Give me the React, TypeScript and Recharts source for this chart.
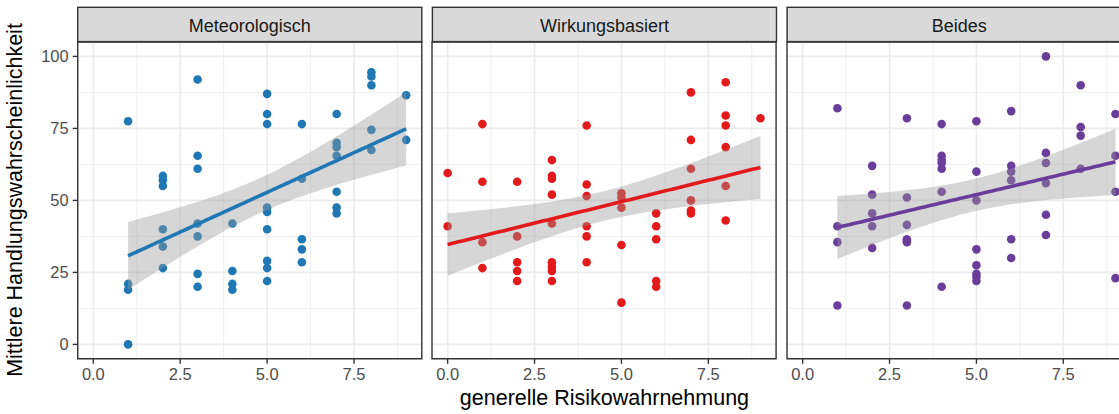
import React from "react";
import {
  ComposedChart,
  Scatter,
  Area,
  Line,
  XAxis,
  YAxis,
  CartesianGrid,
  ReferenceArea,
} from "recharts";

// Facet names
const panels = ["Meteorologisch", "Wirkungsbasiert", "Beides"];
const panelColors = ["#1F78B4", "#E31A1C", "#6A3D9A"];

// Mean action likelihood per respondent, grouped by general risk perception (index = 0..9)
const meteorologisch: number[][] = [
  [],
  [77.5, 21, 19, 0],
  [58.5, 57, 55, 40, 34, 26.5],
  [92, 65.5, 61, 42, 37.5, 24.5, 20],
  [42, 25.5, 21, 19],
  [87, 80, 76.5, 47.5, 46, 40, 29, 26.5, 22],
  [76.5, 57.5, 36.5, 33, 28.5],
  [80, 70, 68.5, 65.5, 53, 47.5, 45.5],
  [94.5, 93, 90, 74.5, 67.5],
  [86.5, 71],
];

const wirkungsbasiert: number[][] = [
  [59.5, 41],
  [76.5, 56.5, 35.5, 26.5],
  [56.5, 37.5, 28.5, 25.5, 22],
  [64, 58.5, 57.5, 52, 42, 28.5, 27, 25.5, 22],
  [76, 55.5, 51.5, 41, 37.5, 28.5],
  [52.5, 51, 47.5, 34.5, 14.5],
  [45.5, 41, 36.5, 22, 20],
  [87.5, 71, 61, 50, 46.5, 45.5],
  [91, 79.5, 76, 68.5, 55, 43],
  [78.5],
];

const beides: number[][] = [
  [],
  [82, 41, 35.5, 13.5],
  [62, 52, 45.5, 41, 33.5],
  [78.5, 51, 41.5, 36.5, 36, 35.5, 13.5],
  [76.5, 65.5, 64, 63, 61, 53, 20],
  [77.5, 60, 50, 33, 27.5, 24.5, 23.5, 22],
  [81, 62, 60, 57, 36.5, 30],
  [100, 66.5, 63, 56, 45, 38],
  [90, 75.5, 72.5, 61],
  [80, 65.5, 53, 23],
];

const panelData = [meteorologisch, wirkungsbasiert, beides];

const xTicks = [0, 2.5, 5, 7.5];
const xMinor = [1.25, 3.75, 6.25, 8.75];
const yTicks = [0, 25, 50, 75, 100];
const yMinor = [12.5, 37.5, 62.5, 87.5];

const X_DOMAIN: [number, number] = [-0.45, 9.45];
const Y_DOMAIN: [number, number] = [-5, 105];

// Layout
const FONT = "'Liberation Sans', Arial, Helvetica, sans-serif";
const PLOT_TOP = 41.6;
const PLOT_H = 316.8;
const PANEL_W = 344.1;
const GAP = 10.6;
const FIRST_LEFT = 77.7;
const Y_AXIS_W = 77.7;
const X_AXIS_H = 50;
const M = 2;
const STRIP_TOP = 7.3;

type Pt = { x: number; y: number };

function toPoints(groups: number[][]): Pt[] {
  const out: Pt[] = [];
  groups.forEach((ys, x) => ys.forEach((y) => out.push({ x, y })));
  return out;
}

function t975(df: number): number {
  const z = 1.959964;
  const z3 = z ** 3;
  const z5 = z ** 5;
  return z + (z3 + z) / (4 * df) + (5 * z5 + 16 * z3 + 3 * z) / (96 * df * df);
}

// Least-squares fit with 95% confidence band, evaluated on 80 points across the x range
function linearSmooth(pts: Pt[]) {
  const n = pts.length;
  const mx = pts.reduce((s, p) => s + p.x, 0) / n;
  const my = pts.reduce((s, p) => s + p.y, 0) / n;
  let sxx = 0;
  let sxy = 0;
  pts.forEach((p) => {
    sxx += (p.x - mx) ** 2;
    sxy += (p.x - mx) * (p.y - my);
  });
  const b = sxy / sxx;
  const a = my - b * mx;
  let sse = 0;
  pts.forEach((p) => {
    sse += (p.y - (a + b * p.x)) ** 2;
  });
  const s = Math.sqrt(sse / (n - 2));
  const t = t975(n - 2);
  const xmin = Math.min(...pts.map((p) => p.x));
  const xmax = Math.max(...pts.map((p) => p.x));
  const rows: { x: number; fit: number; band: [number, number] }[] = [];
  const steps = 80;
  for (let i = 0; i < steps; i++) {
    const x = xmin + ((xmax - xmin) * i) / (steps - 1);
    const fit = a + b * x;
    const se = s * Math.sqrt(1 / n + (x - mx) ** 2 / sxx);
    rows.push({ x, fit, band: [fit - t * se, fit + t * se] });
  }
  return rows;
}

const tickStyle = { fill: "#4D4D4D", fontSize: 16.5, fontFamily: FONT };

function Panel({ index }: { index: number }) {
  const color = panelColors[index];
  const pts = toPoints(panelData[index]);
  const smooth = linearSmooth(pts);
  const withY = index === 0;
  const yw = withY ? Y_AXIS_W : 0;
  const plotLeft = FIRST_LEFT + index * (PANEL_W + GAP);
  const left = plotLeft - yw - M;
  return (
    <div style={{ position: "absolute", left, top: PLOT_TOP - M }}>
      <ComposedChart
        width={yw + PANEL_W + 2 * M}
        height={PLOT_H + M + X_AXIS_H}
        data={smooth}
        margin={{ top: M, right: M, bottom: 0, left: M }}
      >
        <CartesianGrid
          stroke="#EBEBEB"
          strokeWidth={0.8}
          horizontalValues={yMinor}
          verticalValues={xMinor}
        />
        <CartesianGrid
          stroke="#EBEBEB"
          strokeWidth={1.6}
          horizontalValues={yTicks}
          verticalValues={xTicks}
        />
        <XAxis
          dataKey="x"
          type="number"
          domain={X_DOMAIN}
          allowDataOverflow
          ticks={xTicks}
          interval={0}
          tickFormatter={(v: number) => v.toFixed(1)}
          axisLine={false}
          tickLine={{ stroke: "#333333", strokeWidth: 1.4 }}
          tickSize={5}
          tickMargin={4}
          height={X_AXIS_H}
          tick={tickStyle}
        />
        <YAxis
          type="number"
          domain={Y_DOMAIN}
          allowDataOverflow
          ticks={yTicks}
          interval={0}
          hide={!withY}
          width={yw}
          axisLine={false}
          tickLine={{ stroke: "#333333", strokeWidth: 1.4 }}
          tickSize={5}
          tickMargin={4}
          tick={tickStyle}
        />
        <Scatter
          data={pts}
          dataKey="y"
          fill={color}
          isAnimationActive={false}
          shape={(p: any) => <circle cx={p.cx} cy={p.cy} r={4.3} fill={color} />}
        />
        <Area
          dataKey="band"
          type="linear"
          stroke="none"
          fill="#999999"
          fillOpacity={0.4}
          isAnimationActive={false}
          activeDot={false}
          zIndex={650}
        />
        <Line
          dataKey="fit"
          type="linear"
          stroke={color}
          strokeWidth={3.6}
          dot={false}
          activeDot={false}
          isAnimationActive={false}
          zIndex={700}
        />
        <ReferenceArea
          x1={X_DOMAIN[0]}
          x2={X_DOMAIN[1]}
          y1={Y_DOMAIN[0]}
          y2={Y_DOMAIN[1]}
          fill="none"
          stroke="#333333"
          strokeWidth={1.4}
          ifOverflow="visible"
          zIndex={900}
        />
      </ComposedChart>
    </div>
  );
}

export default function App() {
  const totalLeft = FIRST_LEFT;
  const totalRight = FIRST_LEFT + 3 * PANEL_W + 2 * GAP;
  return (
    <div
      style={{
        position: "absolute",
        left: 0,
        top: 0,
        width: 1119,
        height: 414,
        overflow: "hidden",
        background: "#FFFFFF",
      }}
    >
      {panels.map((_, i) => (
        <Panel key={i} index={i} />
      ))}
      <svg
        width={1119}
        height={414}
        style={{ position: "absolute", left: 0, top: 0, pointerEvents: "none", overflow: "visible" }}
      >
        {panels.map((name, i) => {
          const x = FIRST_LEFT + i * (PANEL_W + GAP);
          return (
            <g key={name}>
              <rect
                x={x}
                y={STRIP_TOP}
                width={PANEL_W}
                height={PLOT_TOP - STRIP_TOP}
                fill="#D9D9D9"
                stroke="#333333"
                strokeWidth={1.4}
              />
              <text
                x={x + PANEL_W / 2}
                y={32.4}
                textAnchor="middle"
                fontFamily={FONT}
                fontSize={18}
                fill="#1A1A1A"
              >
                {name}
              </text>
            </g>
          );
        })}
        <text
          x={(totalLeft + totalRight) / 2}
          y={404.5}
          textAnchor="middle"
          fontFamily={FONT}
          fontSize={21.5}
          fill="#000000"
        >
          generelle Risikowahrnehmung
        </text>
        <text
          transform={`translate(21.5, ${PLOT_TOP + PLOT_H / 2}) rotate(-90)`}
          textAnchor="middle"
          fontFamily={FONT}
          fontSize={21.5}
          fill="#000000"
        >
          Mittlere Handlungswahrscheinlichkeit
        </text>
      </svg>
    </div>
  );
}
